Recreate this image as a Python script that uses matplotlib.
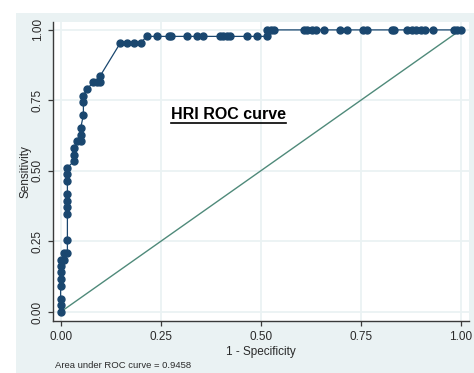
import numpy as np
import matplotlib
matplotlib.use('Agg')
import matplotlib.pyplot as plt
from matplotlib.patches import Rectangle
from matplotlib.lines import Line2D

# ROC points (1 - specificity, sensitivity)
fpr = [0.000, 0.000, 0.000, 0.000, 0.000, 0.000, 0.000, 0.000, 0.008, 0.008,
       0.017, 0.017, 0.017, 0.017, 0.017, 0.017, 0.017, 0.017, 0.017, 0.034,
       0.034, 0.034, 0.040, 0.050, 0.050, 0.050, 0.057, 0.057, 0.057, 0.066,
       0.082, 0.090, 0.099, 0.099, 0.149, 0.167, 0.184, 0.200, 0.215, 0.240,
       0.270, 0.276, 0.317, 0.341, 0.357, 0.399, 0.407, 0.415, 0.424, 0.466,
       0.491, 0.515, 0.515, 0.525, 0.534, 0.608, 0.617, 0.628, 0.639, 0.658,
       0.699, 0.717, 0.757, 0.765, 0.828, 0.834, 0.865, 0.878, 0.889, 0.900,
       0.911, 0.930, 0.984, 0.992, 1.000]
tpr = [0.000, 0.023, 0.047, 0.093, 0.116, 0.140, 0.163, 0.186, 0.186, 0.209,
       0.209, 0.256, 0.349, 0.372, 0.395, 0.419, 0.465, 0.488, 0.512, 0.535,
       0.558, 0.581, 0.605, 0.605, 0.628, 0.651, 0.698, 0.744, 0.767, 0.791,
       0.814, 0.814, 0.814, 0.837, 0.953, 0.953, 0.953, 0.953, 0.977, 0.977,
       0.977, 0.977, 0.977, 0.977, 0.977, 0.977, 0.977, 0.977, 0.977, 0.977,
       0.977, 0.977, 1.000, 1.000, 1.000, 1.000, 1.000, 1.000, 1.000, 1.000,
       1.000, 1.000, 1.000, 1.000, 1.000, 1.000, 1.000, 1.000, 1.000, 1.000,
       1.000, 1.000, 1.000, 1.000, 1.000]
ticks = [0.00, 0.25, 0.50, 0.75, 1.00]
tick_labels = ['0.00', '0.25', '0.50', '0.75', '1.00']
auc = 0.9458

plt.rcParams['font.family'] = ['Liberation Sans', 'DejaVu Sans']

W, H = 474, 373
fig = plt.figure(figsize=(W / 100, H / 100), dpi=100, facecolor='white')
fig.patches.append(Rectangle((16 / W, 0), 1 - 16 / W, 1 - 13 / H,
                             transform=fig.transFigure, facecolor='#eaf2f3',
                             edgecolor='none', zorder=-5))

ax = fig.add_axes([53 / W, 52 / H, 416 / W, 299 / H])
ax.set_facecolor('white')
ax.set_xlim(-0.019, 1.021)
ax.set_ylim(-0.032, 1.028)

for t in ticks:
    ax.axvline(t, color='#eaf2f3', lw=1.3, zorder=1)
    ax.axhline(t, color='#eaf2f3', lw=1.3, zorder=1)

ax.plot([0, 1], [0, 1], color='#4f8a7a', lw=1.0, zorder=2)
ax.plot(fpr, tpr, '-o', color='#1a476f', lw=0.9, markersize=5.0, zorder=3)

for s in ['top', 'right']:
    ax.spines[s].set_visible(False)
for s in ['left', 'bottom']:
    ax.spines[s].set_color('#3a3a3a')
    ax.spines[s].set_linewidth(1.0)

ax.set_xticks(ticks)
ax.set_xticklabels(tick_labels)
ax.set_yticks(ticks)
ax.set_yticklabels(tick_labels, rotation=90, va='center')
ax.tick_params(direction='out', length=3.5, width=0.9, color='#3a3a3a',
               labelsize=8.5, labelcolor='#2a2a2a', pad=3)
ax.tick_params(axis='x', pad=4)

ax.set_xlabel('1 - Specificity', fontsize=8.5, color='#2a2a2a', labelpad=2)
ax.set_ylabel('Sensitivity', fontsize=8.5, color='#2a2a2a', labelpad=0.5)

title = ax.text(0.42, 0.70, 'HRI ROC curve', fontsize=11.5, fontweight='bold',
                ha='center', va='center', color='black', zorder=4)

fig.text(55 / W, 1 - 365 / H, 'Area under ROC curve = %.4f' % auc,
         fontsize=6.8, color='#2a2a2a', va='center', ha='left')

# underline the title
fig.canvas.draw()
bb = title.get_window_extent(fig.canvas.get_renderer())
y_line = (bb.y0 - 1) / fig.bbox.height
fig.lines.append(Line2D([bb.x0 / fig.bbox.width, bb.x1 / fig.bbox.width],
                        [y_line, y_line], transform=fig.transFigure,
                        color='black', lw=1.2))

fig.savefig('out.png', dpi=100, facecolor='white')
